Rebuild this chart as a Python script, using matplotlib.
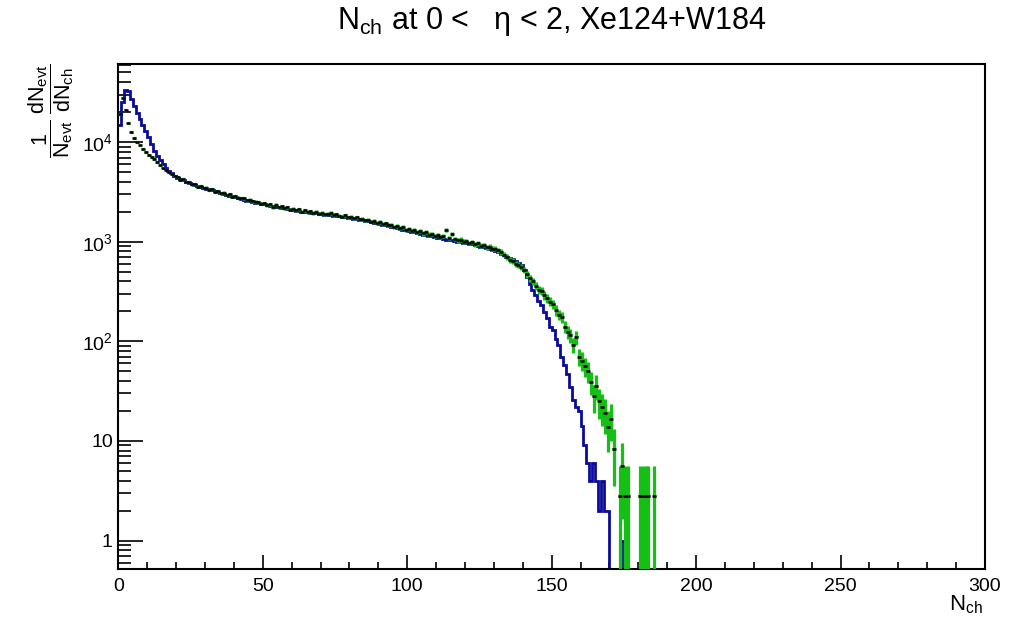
import numpy as np
import matplotlib
matplotlib.use('Agg')
import matplotlib.pyplot as plt
from matplotlib.ticker import MultipleLocator, LogLocator, FuncFormatter, NullFormatter

plt.rcParams['font.family'] = ['Liberation Sans', 'DejaVu Sans']
plt.rcParams['mathtext.fontset'] = 'custom'
plt.rcParams['mathtext.rm'] = 'Liberation Sans'
plt.rcParams['mathtext.it'] = 'Liberation Sans:italic'
plt.rcParams['mathtext.bf'] = 'Liberation Sans:bold'
plt.rcParams['mathtext.default'] = 'regular'

# ---- data (1 bin = 1 unit of N_ch, bin n covers [n, n+1)) ----
blue_values = [
    15000, 25000, 33000, 32500, 27000, 23000, 19800, 17200, 14800, 12800,
    11200, 9500, 8200, 7300, 6600, 6000, 5500, 5150, 4850, 4600,
    4400, 4250, 4150, 4020, 3900, 3830, 3720, 3650, 3560, 3480,
    3420, 3350, 3290, 3210, 3150, 3100, 3010, 2960, 2900, 2850,
    2790, 2740, 2690, 2650, 2590, 2550, 2520, 2460, 2440, 2400,
    2370, 2330, 2300, 2280, 2240, 2210, 2190, 2170, 2130, 2110,
    2070, 2050, 2040, 2000, 1990, 1980, 1940, 1940, 1920, 1890,
    1890, 1870, 1860, 1850, 1830, 1820, 1800, 1780, 1760, 1740,
    1720, 1700, 1680, 1650, 1640, 1620, 1600, 1570, 1550, 1530,
    1500, 1480, 1460, 1430, 1410, 1390, 1370, 1340, 1320, 1300,
    1280, 1260, 1240, 1220, 1200, 1180, 1170, 1150, 1130, 1110,
    1100, 1080, 1070, 1050, 1040, 1030, 1010, 1000, 985, 975,
    965, 950, 940, 925, 910, 895, 880, 860, 840, 820,
    800, 780, 760, 735, 710, 690, 665, 640, 610, 580,
    520, 440, 375, 330, 290, 255, 230, 195, 170, 140,
    130, 105, 92, 70, 58, 47, 35, 26, 22, 20,
    14, 9, 6, 4, 6, 4, 2, 4, 2, 2,
    0, 0, 0, 0, 1, 0,
]

green_values = [
    19000, 28000, 21000, 15500, 12700, 10900, 10000, 9300, 8600, 8000,
    7500, 7100, 6700, 6300, 5900, 5500, 5250, 5000, 4800, 4600,
    4450, 4150, 4250, 3950, 4000, 3760, 3820, 3580, 3650, 3460,
    3500, 3300, 3380, 3170, 3230, 3050, 3110, 2940, 3000, 2840,
    2880, 2760, 2750, 2720, 2600, 2650, 2540, 2520, 2500, 2400,
    2450, 2330, 2380, 2220, 2340, 2210, 2260, 2160, 2220, 2100,
    2150, 2060, 2110, 2010, 2070, 1980, 2020, 1940, 2000, 1910,
    1950, 1890, 1910, 1940, 1850, 1880, 1830, 1790, 1840, 1750,
    1790, 1710, 1750, 1680, 1700, 1640, 1670, 1590, 1630, 1540,
    1570, 1500, 1530, 1460, 1480, 1410, 1450, 1360, 1400, 1320,
    1350, 1290, 1310, 1250, 1270, 1210, 1240, 1180, 1200, 1150,
    1160, 1120, 1140, 1300, 1090, 1200, 1070, 1030, 1050, 1000,
    1020, 975, 990, 940, 960, 915, 930, 880, 890, 850,
    850, 820, 790, 740, 700, 660, 640, 600, 580, 555,
    520, 470, 430, 400, 360, 330, 320, 290, 270, 250,
    235, 205, 185, 175, 140, 125, 115, 92, 110, 70,
    64, 56, 50, 39, 28, 36, 25, 22, 19, 13.9,
    16.7, 8.3, 0, 2.8, 5.6, 2.8, 2.8, 0, 0, 0,
    2.8, 2.8, 2.8, 2.8, 0, 2.8,
]
green_unit = 2.78  # value carried by a single entry of the green/black histogram

x_ticks_major = [0, 50, 100, 150, 200, 250, 300]

title_text = r'N$_{ch}$ at 0 <   η < 2, Xe124+W184'
x_label = r'N$_{ch}$'
y_label = r'$\dfrac{1}{N_{evt}}\;\dfrac{dN_{evt}}{dN_{ch}}$'

BLUE = '#0a0a9c'
GREEN = '#13c013'

# ---- figure ----
fig = plt.figure(figsize=(10.28, 6.18), dpi=100)
ax = fig.add_axes([0.1151, 0.0788, 0.8431, 0.8176])
ax.set_yscale('log')

blue = np.asarray(blue_values, dtype=float)
edges = np.arange(len(blue) + 1)
ax.stairs(np.where(blue > 0, blue, 1e-3), edges, baseline=None,
          color=BLUE, linewidth=2.0, zorder=2)

green = np.asarray(green_values, dtype=float)
xc = np.arange(len(green)) + 0.5
m = green > 0
err = np.sqrt(green[m] * green_unit)
lo = np.minimum(err, green[m] - 1e-3)
ax.errorbar(xc[m], green[m], yerr=[lo, err], xerr=0.5, fmt='none',
            ecolor=GREEN, elinewidth=2.3, capsize=0, zorder=3)
ax.plot(xc[m], green[m], linestyle='none', marker='_', markersize=2.8,
        markeredgewidth=1.8, color='black', zorder=4)

ax.set_xlim(0, 300)
ax.set_ylim(0.514, 6.08e4)
ax.set_xticks(x_ticks_major)
ax.xaxis.set_minor_locator(MultipleLocator(10))
ax.yaxis.set_major_locator(LogLocator(base=10, numticks=12))
ax.yaxis.set_minor_locator(LogLocator(base=10, subs=np.arange(2, 10), numticks=12))
ax.yaxis.set_minor_formatter(NullFormatter())


def yfmt(v, pos):
    e = int(round(np.log10(v)))
    if e == 0:
        return '1'
    if e == 1:
        return '10'
    return r'$10^{%d}$' % e


ax.yaxis.set_major_formatter(FuncFormatter(yfmt))

for s in ax.spines.values():
    s.set_linewidth(1.5)
ax.tick_params(which='both', direction='in', top=False, right=False,
               width=1.2, labelsize=14, colors='black')
ax.tick_params(axis='x', which='major', length=10, pad=6)
ax.tick_params(axis='x', which='minor', length=5)
ax.tick_params(axis='y', which='major', length=18, pad=4)
ax.tick_params(axis='y', which='minor', length=9)

fig.text(0.5365, 1 - 22 / 618, title_text, ha='center', va='center', fontsize=22)
fig.text(983 / 1028, 1 - 610 / 618, x_label, ha='right', va='baseline', fontsize=16)
fig.text(51 / 1028, 1 - 111 / 618, y_label, rotation=90, ha='center', va='center', fontsize=15.5)

fig.savefig('out.png', dpi=100)
